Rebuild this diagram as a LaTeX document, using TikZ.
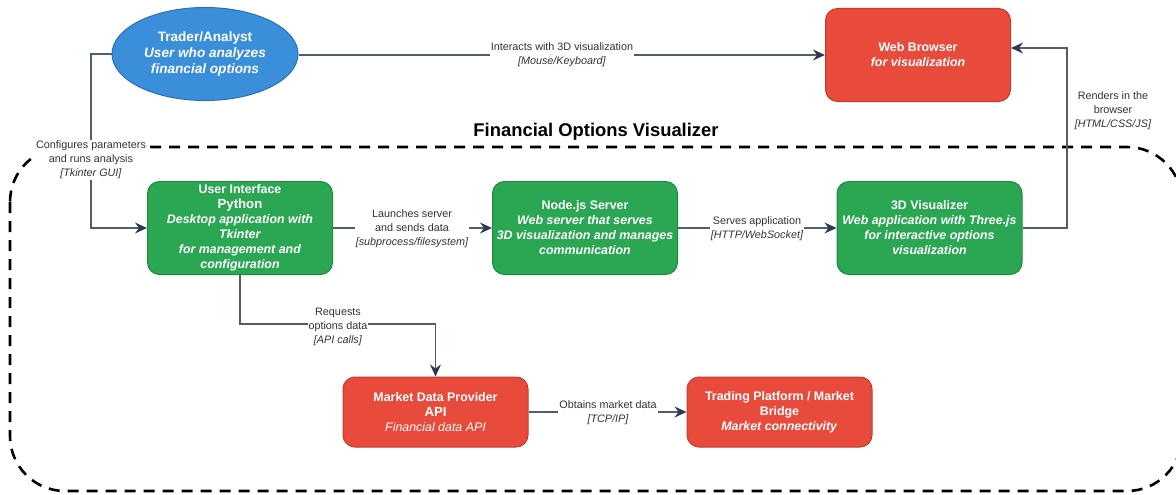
\documentclass[tikz,border=0pt]{standalone}
\usepackage{fontspec}
\setmainfont{Liberation Sans}
\usetikzlibrary{arrows.meta,shapes.geometric,calc}
\definecolor{cblue}{HTML}{3B8FDA}
\definecolor{cblueb}{HTML}{2A6FB0}
\definecolor{cgreen}{HTML}{2BA653}
\definecolor{cgreenb}{HTML}{1E8A41}
\definecolor{cred}{HTML}{E84B3C}
\definecolor{credb}{HTML}{C43A2D}
\definecolor{cline}{HTML}{4F5D6C}
\definecolor{carrow}{HTML}{2C3B4E}
\definecolor{ctext}{HTML}{333333}
\tikzset{
  boxbase/.style={rounded corners=12pt, minimum width=185pt, text=white, align=center, line width=1pt, inner sep=1pt, font=\fontsize{12.4}{15}\selectfont\bfseries},
  gbox/.style={boxbase, fill=cgreen, draw=cgreenb, minimum height=93pt},
  rbox/.style={boxbase, fill=cred, draw=credb, minimum height=93pt},
  rsbox/.style={boxbase, fill=cred, draw=credb, minimum height=70pt},
  person/.style={ellipse, fill=cblue, draw=cblueb, line width=1pt, minimum width=186pt, minimum height=93pt, inner sep=0pt, text=white, align=center, font=\fontsize{13.6}{16}\selectfont\bfseries},
  conn/.style={draw=cline, line width=1.4pt, -{Stealth[length=12pt,width=11pt,inset=4pt,color=carrow]}},
  lbl/.style={fill=white, text=ctext, align=center, inner sep=1pt, font=\fontsize{10.8}{14}\selectfont},
  container/.style={draw=black, line width=2.6pt, dash pattern=on 11pt off 8pt, rounded corners=55pt},
  ttl/.style={font=\fontsize{18.4}{21}\selectfont\bfseries, text=black}
}
\begin{document}
\begin{tikzpicture}[x=1pt,y=-1pt]
\useasboundingbox (0,0) rectangle (1176,495);
% container
\draw[container] (10,147) rectangle (1182,491);
\node[ttl] (title) at (596,132) {Financial Options Visualizer};
% nodes
\node[person] (ta) at (205,54) {Trader/Analyst\\\textit{User who analyzes}\\\textit{financial options}};
\node[rbox] (wb) at (918,55) {Web Browser\\\textit{for visualization}};
\node[gbox] (ui) at (240,228) {User Interface\\{\fontsize{13.2}{15}\selectfont Python}\\\textit{Desktop application with}\\\textit{Tkinter}\\\textit{for management and}\\\textit{configuration}};
\node[gbox] (ns) at (585,228) {Node.js Server\\\textit{Web server that serves}\\\textit{3D visualization and manages}\\\textit{communication}};
\node[gbox] (vis) at (929.5,228) {3D Visualizer\\\textit{Web application with Three.js}\\\textit{for interactive options}\\\textit{visualization}};
\node[rsbox] (mdp) at (435.5,412) {Market Data Provider\\{\fontsize{13.2}{15}\selectfont API}\\{\mdseries\itshape Financial data API}};
\node[rsbox] (tp) at (779.5,412) {Trading Platform / Market\\Bridge\\\textit{Market connectivity}};
% helper coordinates
\coordinate (c1) at (91,54);
\coordinate (c2) at (1067,48);
\coordinate (c3) at (340,324);
% connectors
\draw[conn] (ta.west) -- (c1) |- (ui.west);
\node[lbl] (l1) at (91,160) {Configures parameters\\and runs analysis\\\textit{[Tkinter GUI]}};
\draw[conn] (ta.east |- wb.west) -- (wb.west);
\node[lbl, anchor=north] (l2) at (562,41) {Interacts with 3D visualization\\\textit{[Mouse/Keyboard]}};
\draw[conn] (ui.east) -- (ns.west);
\node[lbl] (l3) at (412,229) {Launches server\\and sends data\\\textit{[subprocess/filesystem]}};
\draw[conn] (ns.east) -- (vis.west);
\node[lbl] (l4) at (757,229) {Serves application\\\textit{[HTTP/WebSocket]}};
\draw[conn] (vis.east) -| (c2) -- (wb.east |- c2);
\node[lbl] (l5) at (1113,111) {Renders in the\\browser\\\textit{[HTML/CSS/JS]}};
\draw[conn] (ui.south) |- (c3) -| (mdp.north);
\node[lbl] (l6) at (338,327) {Requests\\options data\\\textit{[API calls]}};
\draw[conn] (mdp.east) -- (tp.west);
\node[lbl] (l7) at (608,413) {Obtains market data\\\textit{[TCP/IP]}};
\end{tikzpicture}
\end{document}
